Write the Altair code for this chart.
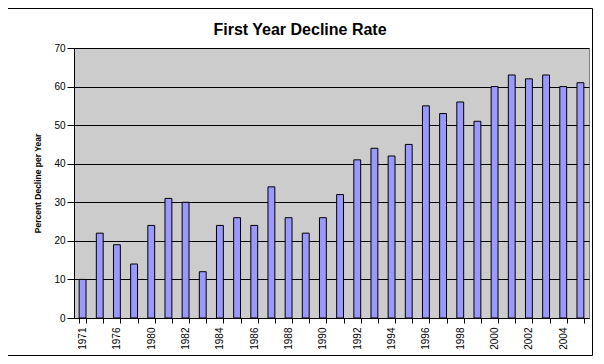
import altair as alt
import pandas as pd

years = ["1971", "1974", "1976", "1978", "1980", "1981", "1982", "1983", "1984", "1985",
         "1986", "1987", "1988", "1989", "1990", "1991", "1992", "1993", "1994", "1995",
         "1996", "1997", "1998", "1999", "2000", "2001", "2002", "2003", "2004", "2005"]
decline = [10, 22, 19, 14, 24, 31, 30, 12, 24, 26,
           24, 34, 26, 22, 26, 32, 41, 44, 42, 45,
           55, 53, 56, 51, 60, 63, 62, 63, 60, 61]
shown_labels = ["1971", "1976", "1980", "1982", "1984", "1986", "1988", "1990",
                "1992", "1994", "1996", "1998", "2000", "2002", "2004"]
chart_title = "First Year Decline Rate"

df = pd.DataFrame({"year": years, "decline": decline})
one = pd.DataFrame({"t": [chart_title]})

label_expr = "indexof([" + ",".join("'%s'" % s for s in shown_labels) + "], datum.value) >= 0 ? datum.value : ''"

FONT = "Liberation Sans"

bars = alt.Chart(df).mark_bar(
    color="#9999FF", stroke="black", strokeWidth=1
).encode(
    x=alt.X("year:N", sort=years,
            scale=alt.Scale(paddingInner=0.6, paddingOuter=0.3),
            axis=alt.Axis(title=None, labelAngle=-90, labelExpr=label_expr,
                          tickBand="extent", tickSize=5, labelPadding=4,
                          labelFontSize=10, labelFont=FONT, labelColor="black",
                          domainColor="black", tickColor="black", grid=False)),
    y=alt.Y("decline:Q",
            scale=alt.Scale(domain=[0, 70], nice=False),
            axis=alt.Axis(title="Percent Decline per Year", values=list(range(0, 71, 10)),
                          titleFont=FONT, titleFontSize=8.5, titleFontWeight="bold",
                          titleColor="black", titlePadding=11,
                          labelFontSize=10, labelFont=FONT, labelColor="black",
                          tickSize=7, labelPadding=2,
                          domainColor="black", tickColor="black",
                          grid=True, gridColor="black", gridOpacity=1, gridWidth=1)),
)

border = alt.Chart(one).mark_rect(
    fill="transparent", stroke="black", strokeWidth=1, clip=False
).encode(
    x=alt.value(-66.5), x2=alt.value(518.5), y=alt.value(-39.5), y2=alt.value(307.5)
)

title_text = alt.Chart(one).mark_text(
    font=FONT, fontSize=16, fontWeight="bold",
    color="black", align="center", baseline="alphabetic"
).encode(text="t:N", x=alt.value(226), y=alt.value(-13))

chart = alt.layer(bars, title_text, border).properties(
    width=515, height=270,
    autosize=alt.AutoSizeParams(type="none"),
    padding={"left": 66, "top": 40, "right": 7, "bottom": 38},
    background="white",
).configure_view(
    fill="#CCCCCC", stroke="#808080", strokeWidth=1
)

chart.save("out.html", embed_options={"renderer": "svg", "actions": False})
